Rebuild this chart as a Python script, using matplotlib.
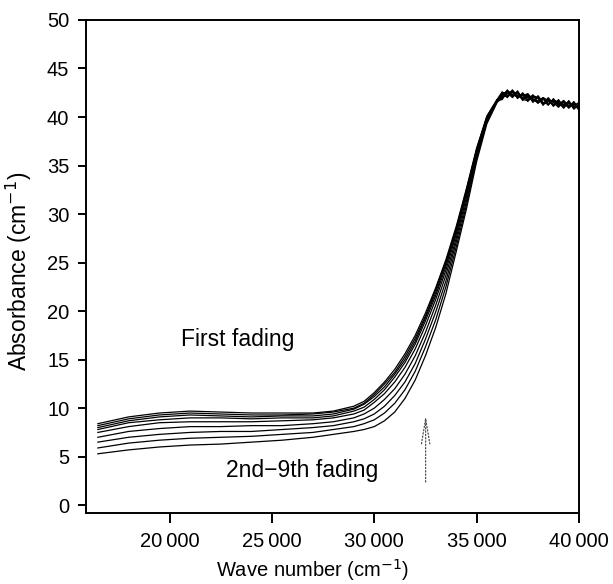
import numpy as np
import matplotlib
matplotlib.use("Agg")
import matplotlib.pyplot as plt
from matplotlib.ticker import FuncFormatter

plt.rcParams['font.family'] = ['Liberation Sans', 'DejaVu Sans']

# wave numbers (cm-1)
wn = [16500, 18000, 19500, 21000, 22500, 24000, 25500, 27000, 28000, 29000,
      29500, 30000, 30500, 31000, 31500, 32000, 32500, 33000, 33500, 34000,
      34500, 35000, 35500, 36000, 36250, 36500, 36750, 37000, 37250, 37500,
      37750, 38000, 38250, 38500, 38750, 39000, 39250, 39500, 39750, 40000]

# absorbance (cm-1), first fading on top, then 2nd ... 9th fading
fade1 = [8.4, 9.1, 9.5, 9.7, 9.6, 9.5, 9.5, 9.5, 9.7, 10.2,
         10.7, 11.6, 12.7, 14.0, 15.6, 17.5, 19.8, 22.4, 25.3, 28.7,
         32.6, 36.8, 40.1, 41.8, 42.6, 42.1, 42.7, 41.9, 42.5, 41.8,
         42.3, 41.5, 41.9, 41.2, 41.9, 41.1, 41.7, 41.0, 41.6, 40.8]
fade2 = [8.2, 8.9, 9.3, 9.5, 9.4, 9.3, 9.3, 9.4, 9.6, 10.0,
         10.5, 11.4, 12.5, 13.7, 15.3, 17.2, 19.5, 22.2, 25.1, 28.5,
         32.5, 36.7, 40.0, 41.8, 41.9, 42.8, 42.1, 42.7, 41.8, 42.4,
         41.5, 42.1, 41.3, 42.0, 41.2, 41.8, 41.0, 41.7, 40.9, 41.4]
fade3 = [8.0, 8.7, 9.1, 9.3, 9.2, 9.1, 9.2, 9.2, 9.4, 9.9,
         10.4, 11.2, 12.2, 13.5, 15.0, 16.9, 19.3, 21.9, 24.9, 28.4,
         32.3, 36.6, 40.0, 41.8, 42.3, 42.7, 42.2, 42.5, 41.7, 42.3,
         41.9, 41.4, 42.0, 41.7, 41.2, 41.7, 41.2, 41.6, 40.8, 41.3]
fade4 = [7.8, 8.5, 8.8, 9.0, 9.0, 8.9, 9.0, 9.0, 9.2, 9.7,
         10.1, 10.9, 11.9, 13.2, 14.7, 16.6, 19.0, 21.6, 24.6, 28.2,
         32.2, 36.5, 39.9, 41.7, 42.1, 42.2, 42.8, 42.1, 42.3, 41.6,
         42.2, 42.0, 41.3, 41.9, 41.5, 41.0, 41.6, 41.1, 41.5, 40.9]
fade5 = [7.5, 8.1, 8.5, 8.6, 8.6, 8.6, 8.7, 8.8, 9.0, 9.4,
         9.8, 10.6, 11.5, 12.7, 14.2, 16.1, 18.5, 21.2, 24.2, 27.9,
         32.0, 36.4, 39.9, 41.7, 42.5, 42.5, 42.0, 42.6, 42.0, 42.2,
         41.6, 42.2, 41.5, 41.3, 41.8, 41.5, 40.9, 41.5, 41.2, 41.5]
fade6 = [7.0, 7.6, 7.9, 8.1, 8.1, 8.2, 8.2, 8.4, 8.6, 9.0,
         9.4, 10.0, 10.9, 12.0, 13.5, 15.4, 17.8, 20.6, 23.7, 27.5,
         31.7, 36.2, 39.7, 41.7, 41.8, 42.6, 42.5, 42.0, 42.4, 42.1,
         41.7, 41.7, 42.0, 41.4, 41.7, 41.2, 41.5, 40.9, 41.4, 40.7]
fade7 = [6.5, 7.0, 7.3, 7.5, 7.6, 7.6, 7.8, 8.0, 8.2, 8.6,
         8.9, 9.4, 10.2, 11.3, 12.7, 14.6, 17.1, 19.9, 23.1, 27.1,
         31.3, 35.9, 39.6, 41.6, 42.4, 42.0, 42.6, 42.4, 41.8, 41.7,
         42.1, 41.9, 41.4, 41.8, 41.1, 41.6, 41.3, 41.4, 41.0, 41.2]
fade8 = [5.9, 6.4, 6.7, 6.9, 7.0, 7.1, 7.3, 7.5, 7.8, 8.1,
         8.4, 8.8, 9.5, 10.5, 11.9, 13.8, 16.3, 19.1, 22.5, 26.6,
         30.9, 35.7, 39.5, 41.6, 42.2, 42.7, 42.3, 42.1, 42.2, 42.4,
         41.8, 41.5, 41.8, 41.6, 41.6, 41.3, 41.7, 41.2, 41.3, 41.0]
fade9 = [5.3, 5.7, 6.0, 6.2, 6.3, 6.5, 6.7, 7.0, 7.3, 7.6,
         7.8, 8.1, 8.7, 9.6, 11.0, 12.9, 15.4, 18.3, 21.8, 26.1,
         30.5, 35.4, 39.3, 41.5, 42.0, 42.4, 42.7, 42.2, 41.9, 42.0,
         42.0, 42.0, 41.2, 41.9, 41.3, 41.4, 41.1, 41.5, 41.1, 41.1]

fadings = [fade1, fade2, fade3, fade4, fade5, fade6, fade7, fade8, fade9]

fig = plt.figure(figsize=(6.13, 5.84), dpi=100)
ax = fig.add_axes([0.1403, 0.1216, 0.8042, 0.8442])

for f in fadings:
    ax.plot(wn, f, color='black', lw=0.9)

ax.set_xlim(15920, 40000)
ax.set_ylim(-0.8, 50)
ax.set_xticks([20000, 25000, 30000, 35000, 40000])
ax.set_yticks(np.arange(0, 51, 5))
ax.xaxis.set_major_formatter(FuncFormatter(lambda v, p: "%d\u2009%03d" % (v // 1000, v % 1000)))

for s in ax.spines.values():
    s.set_linewidth(1.4)
ax.tick_params(direction='out', length=6, width=1.4, labelsize=14.5)
ax.tick_params(axis='y', pad=6)
ax.tick_params(axis='x', length=7, pad=7)

ax.set_xlabel("Wave number (cm$^{-1}$)", fontsize=14.5)
ax.set_ylabel("Absorbance (cm$^{-1}$)", fontsize=16.5)
ax.xaxis.set_label_coords(0.46, -0.09)
ax.yaxis.set_label_coords(-0.105, 0.49)

ax.text(20560, 17.1, "First fading", fontsize=16.5, va='center')
ax.text(22760, 3.6, "2nd\u22129th fading", fontsize=16.5, va='center')

ax.annotate("", xy=(32510, 9.3), xytext=(32510, 2.4),
            arrowprops=dict(arrowstyle="->, head_length=1.8, head_width=0.3",
                            linestyle=':', color='0.3', lw=0.9, mutation_scale=10,
                            shrinkA=0, shrinkB=0))

fig.savefig("out.png", dpi=100)
